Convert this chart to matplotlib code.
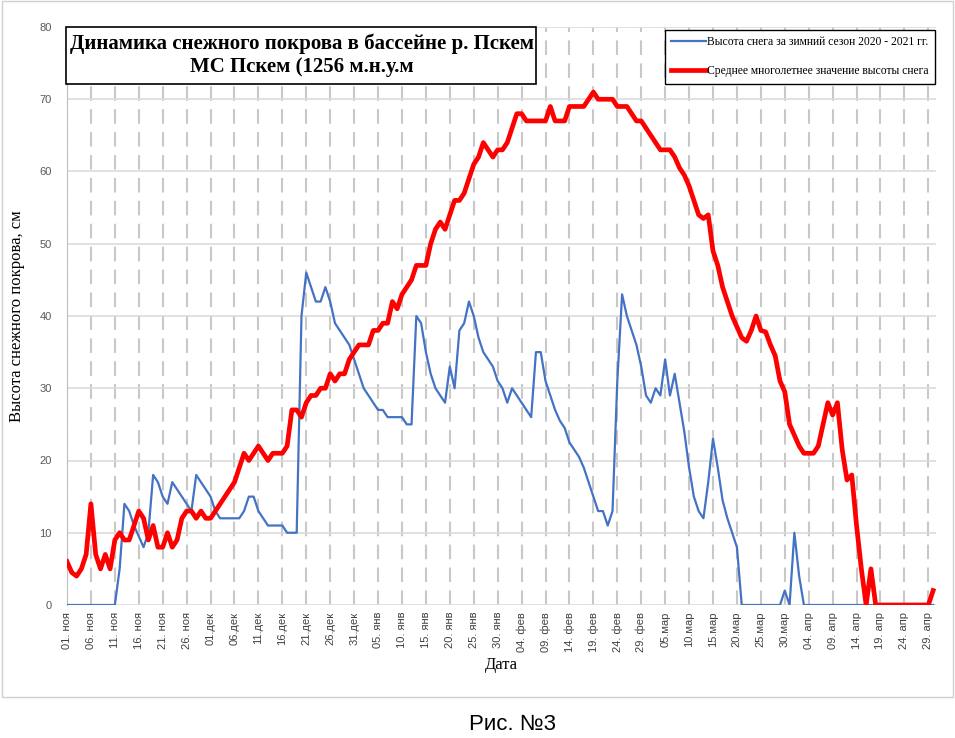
import numpy as np
import matplotlib
matplotlib.use('Agg')
import matplotlib.pyplot as plt
from matplotlib.patches import Rectangle

# daily values, 01.11 -> 30.04 (182 days, leap February)
season_2020_21 = [0] * 11 + [
    5, 14, 13, 11, 9.5, 8, 10, 18, 17, 15, 14, 17, 16, 15, 14, 13, 18, 17, 16, 15,
    13, 12, 12, 12, 12, 12, 13, 15, 15, 13, 12, 11, 11, 11, 11, 10, 10, 10, 40, 46,
    44, 42, 42, 44, 42, 39, 38, 37, 36, 34, 32, 30, 29, 28, 27, 27, 26, 26, 26, 26,
    25, 25, 40, 39, 35, 32, 30, 29, 28, 33, 30, 38, 39, 42, 40, 37, 35, 34, 33, 31,
    30, 28, 30, 29, 28, 27, 26, 35, 35, 31, 29, 27, 25.5, 24.5, 22.5, 21.5, 20.5, 19, 17, 15,
    13, 13, 11, 13, 31, 43, 40, 38, 36, 33, 29, 28, 30, 29, 34, 29, 32, 28, 24, 19,
    15, 13, 12, 17, 23, 19, 14.5, 12, 10, 8,
] + [0] * 9 + [2, 0, 10, 4] + [0] * 28

long_term_mean = [
    6, 4.5, 4, 5, 7, 14, 7, 5, 7, 5, 9, 10, 9, 9, 11, 13, 12, 9, 11, 8,
    8, 10, 8, 9, 12, 13, 13, 12, 13, 12, 12, 13, 14, 15, 16, 17, 19, 21, 20, 21,
    22, 21, 20, 21, 21, 21, 22, 27, 27, 26, 28, 29, 29, 30, 30, 32, 31, 32, 32, 34,
    35, 36, 36, 36, 38, 38, 39, 39, 42, 41, 43, 44, 45, 47, 47, 47, 50, 52, 53, 52,
    54, 56, 56, 57, 59, 61, 62, 64, 63, 62, 63, 63, 64, 66, 68, 68, 67, 67, 67, 67,
    67, 69, 67, 67, 67, 69, 69, 69, 69, 70, 71, 70, 70, 70, 70, 69, 69, 69, 68, 67,
    67, 66, 65, 64, 63, 63, 63, 62, 60.5, 59.5, 58, 56, 54, 53.5, 54, 49, 47, 44, 42, 40,
    38.5, 37, 36.5, 38, 40, 38, 37.8, 36, 34.5, 31, 29.5, 25, 23.5, 22, 21, 21, 21, 22, 25, 28,
    26.3, 28, 21.5, 17.3, 18, 11, 5, 0, 5, 0,
] + [0] * 11 + [2]

tick_labels = [
    '01. ноя', '06. ноя', '11. ноя', '16. ноя', '21. ноя', '26. ноя',
    '01.дек', '06.дек', '11.дек', '16.дек', '21.дек', '26.дек', '31.дек',
    '05. янв', '10. янв', '15. янв', '20. янв', '25. янв', '30. янв',
    '04. фев', '09. фев', '14. фев', '19. фев', '24. фев', '29. фев',
    '05.мар', '10.мар', '15.мар', '20.мар', '25.мар', '30.мар',
    '04. апр', '09. апр', '14. апр', '19. апр', '24. апр', '29. апр',
]

days = np.arange(len(season_2020_21))
serif = 'Liberation Serif'
sans = 'Liberation Sans'

fig = plt.figure(figsize=(9.55, 7.38), dpi=100)
ax = fig.add_axes([67 / 955, 1 - 605 / 738, 869 / 955, 578 / 738])

ax.plot(days, season_2020_21, color='#4472C4', lw=1.6,
        label='Высота снега за зимний сезон 2020 - 2021 гг.', zorder=3)
ax.plot(days, long_term_mean, color='#FF0000', lw=3.4, solid_joinstyle='round',
        label='Среднее многолетнее значение высоты снега', zorder=4)

ax.set_xlim(0, 181.6)
ax.set_ylim(0, 80)
ax.set_yticks(np.arange(0, 81, 10))
ax.set_xticks(np.arange(0, 181, 5))
ax.set_xticklabels(tick_labels, rotation=90, family=sans, fontsize=8, color='#404040')
for t in ax.get_yticklabels():
    t.set_family(sans)
    t.set_fontsize(8)
    t.set_color('#595959')
ax.tick_params(axis='both', length=0)
ax.tick_params(axis='y', pad=11)
ax.tick_params(axis='x', pad=5)

ax.grid(axis='y', color='#dcdcdc', lw=1.2)
ax.grid(axis='x', color='#c8c8c8', lw=1.5, linestyle=(0, (7, 4)))
ax.set_axisbelow(True)
for side in ['top', 'right', 'bottom']:
    ax.spines[side].set_visible(False)
ax.spines['left'].set_color('#bfbfbf')

ax.set_ylabel('Высота снежного покрова, см', family=serif, fontsize=12, labelpad=10)
ax.set_xlabel('Дата', family=serif, fontsize=12, labelpad=4)

# title box
ax.add_patch(Rectangle((-0.001, 0.901), 0.541, 0.099, transform=ax.transAxes,
                       facecolor='white', edgecolor='black', lw=1.2, zorder=6, clip_on=False))
ax.text(0.27, 0.951, 'Динамика снежного покрова в бассейне р. Пскем\nМС Пскем (1256 м.н.у.м',
        transform=ax.transAxes, ha='center', va='center', family=serif, fontsize=15,
        fontweight='bold', linespacing=1.15, zorder=7)

leg = ax.legend(loc='upper right', bbox_to_anchor=(0.999, 0.995), prop={'family': serif, 'size': 8.4},
                frameon=True, fancybox=False, edgecolor='black', framealpha=1,
                labelspacing=1.45, handlelength=3.0, handletextpad=0.1, borderpad=0.55,
                borderaxespad=0)
leg.get_frame().set_linewidth(1.0)
leg.set_zorder(8)

fig.text(0.537, 1 - 725 / 738, 'Рис. №3', ha='center', va='center', family=sans, fontsize=16)
fig.patches.append(Rectangle((0.002, 0.055), 0.996, 0.943, transform=fig.transFigure,
                             fill=False, edgecolor='#d0d0d0', lw=1))

fig.savefig('out.png', dpi=100)
